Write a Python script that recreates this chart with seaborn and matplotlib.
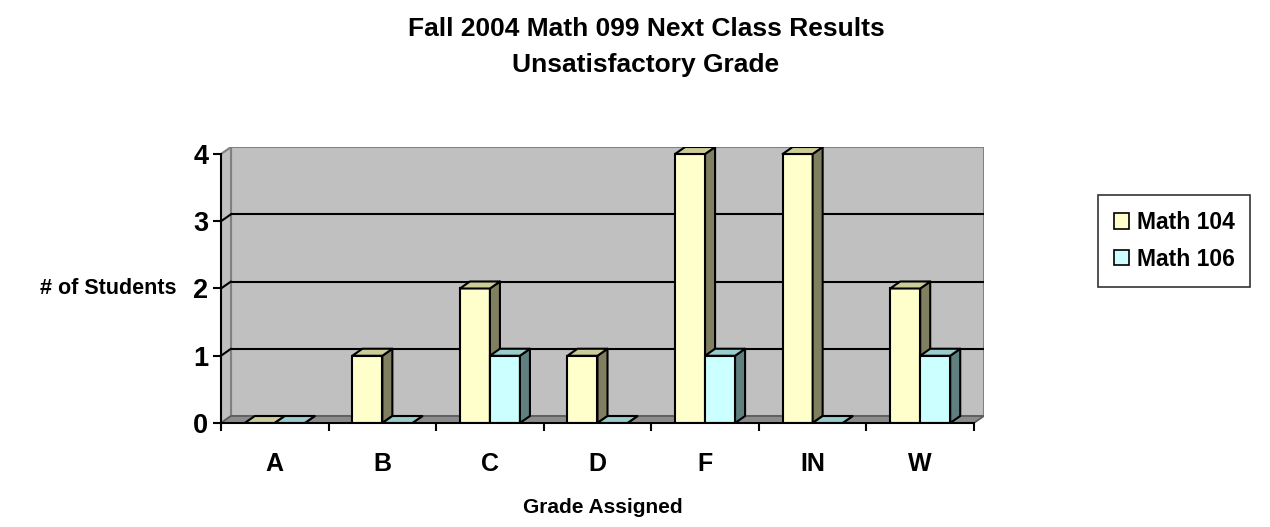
import matplotlib
matplotlib.use("Agg")
import matplotlib.pyplot as plt
from matplotlib.patches import Polygon, Patch
import seaborn as sns
import pandas as pd

# Grade outcomes in the next course
grades = ["A", "B", "C", "D", "F", "IN", "W"]
math104 = [0, 1, 2, 1, 4, 4, 2]
math106 = [0, 0, 1, 0, 1, 0, 1]
courses = ["Math 104", "Math 106"]
y_ticks = [0, 1, 2, 3, 4]

df = pd.DataFrame({
    "grade": grades * 2,
    "count": math104 + math106,
    "course": [courses[0]] * len(grades) + [courses[1]] * len(grades),
})

sns.set_theme(style="white")
plt.rcParams["font.family"] = ["Liberation Sans", "DejaVu Sans"]
plt.rcParams["font.weight"] = "bold"
for key in ["text.color", "axes.labelcolor", "xtick.color", "ytick.color"]:
    plt.rcParams[key] = "black"

front = {"Math 104": "#FFFFCC", "Math 106": "#CCFFFF"}
side = {"Math 104": "#808060", "Math 106": "#608080"}
top = {"Math 104": "#CCCC99", "Math 106": "#99CCCC"}

fig = plt.figure(figsize=(12.7, 5.27), dpi=100)
ax = fig.add_axes([221 / 1270, 104 / 527, 763 / 1270, 276 / 527])

# depth offset of the pseudo-3D walls and bars (data units)
dx, dy = 0.093, 0.104
x_lo, x_hi = -0.5, len(grades) - 0.5
y_top = max(y_ticks)

sns.barplot(data=df, x="grade", y="count", hue="course", order=grades,
            hue_order=courses, palette=[front[c] for c in courses],
            width=0.558, saturation=1, edgecolor="black", linewidth=1.5,
            legend=False, ax=ax)
bars = list(ax.patches)

ax.set_xlim(x_lo, x_hi + dx)
ax.set_ylim(0, y_top + dy)
ax.set_facecolor("none")

# walls and floor
wall_c, wall_edge = "#C0C0C0", "#808080"
ax.add_patch(Polygon([(x_lo + dx, dy), (x_hi + dx, dy), (x_hi + dx, y_top + dy),
                      (x_lo + dx, y_top + dy)], closed=True, facecolor=wall_c,
                     edgecolor=wall_edge, lw=1.5, zorder=0))
ax.add_patch(Polygon([(x_lo, 0), (x_lo + dx, dy), (x_lo + dx, y_top + dy), (x_lo, y_top)],
                     closed=True, facecolor=wall_c, edgecolor=wall_edge, lw=1.5, zorder=0.5))
ax.add_patch(Polygon([(x_lo, 0), (x_hi, 0), (x_hi + dx, dy), (x_lo + dx, dy)],
                     closed=True, facecolor="#8C8C8C", edgecolor="#5A5A5A", lw=1.2, zorder=0.6))

# gridlines across the back wall and the left wall
for k in y_ticks[1:-1]:
    ax.plot([x_lo + dx, x_hi + dx], [k + dy, k + dy], color="black", lw=1.5, zorder=1)
    ax.plot([x_lo, x_lo + dx], [k, k + dy], color="black", lw=1.5, zorder=1)

# give each bar a side and a top face, drawn left to right
n = len(grades)
order = sorted(range(len(bars)), key=lambda i: bars[i].get_x())
for rank, i in enumerate(order):
    p = bars[i]
    course = courses[i // n]
    x0, w, h = p.get_x(), p.get_width(), p.get_height()
    z = 5 + rank
    p.set_zorder(z)
    ax.add_patch(Polygon([(x0 + w, 0), (x0 + w + dx, dy), (x0 + w + dx, h + dy), (x0 + w, h)],
                         closed=True, facecolor=side[course], edgecolor="black",
                         lw=1.5, zorder=z, joinstyle="round"))
    ax.add_patch(Polygon([(x0, h), (x0 + dx, h + dy), (x0 + w + dx, h + dy), (x0 + w, h)],
                         closed=True, facecolor=top[course], edgecolor="black",
                         lw=1.5, zorder=z, joinstyle="round"))

# axes lines and ticks on the front plane
for s in ["top", "right"]:
    ax.spines[s].set_visible(False)
ax.spines["left"].set_bounds(0, y_top)
ax.spines["bottom"].set_bounds(x_lo, x_hi)
for s in ["left", "bottom"]:
    ax.spines[s].set_color("black")
    ax.spines[s].set_linewidth(1.5)
    ax.spines[s].set_zorder(30)

ax.set_yticks(y_ticks)
ax.set_yticklabels([str(t) for t in y_ticks], fontsize=19.5, fontweight="bold")
ax.tick_params(axis="y", which="major", direction="out", length=6, width=1.5,
               color="black", pad=3, left=True)
ax.set_xticks(range(n))
ax.set_xticklabels(grades, fontsize=18, fontweight="bold")
ax.set_xticks([x_lo + k for k in range(n + 1)], minor=True)
ax.tick_params(axis="x", which="major", length=0, pad=21)
ax.tick_params(axis="x", which="minor", direction="out", length=6, width=1.5,
               color="black", bottom=True)

ax.set_xlabel("Grade Assigned", fontsize=15, fontweight="bold", labelpad=16)
ax.set_ylabel("# of Students", fontsize=15.5, fontweight="bold", rotation=0,
              ha="center", va="center")
ax.yaxis.set_label_coords(-0.148, 0.489)

fig.text(646 / 1270, 1 - 47 / 527,
         "Fall 2004 Math 099 Next Class Results\nUnsatisfactory Grade",
         ha="center", va="center", fontsize=19, fontweight="bold", linespacing=1.6)

handles = [Patch(facecolor=front[c], edgecolor="black", lw=1.2) for c in courses]
leg = fig.legend(handles, courses, loc="center",
                 bbox_to_anchor=(1174 / 1270, 1 - 241 / 527),
                 prop={"size": 16.5, "weight": "bold"}, frameon=True, fancybox=False,
                 handlelength=0.65, handleheight=0.65, handletextpad=0.35,
                 labelspacing=0.6, borderpad=0.7, borderaxespad=0)
leg.get_frame().set_edgecolor("black")
leg.get_frame().set_linewidth(1.2)

fig.savefig("out.png", dpi=100)
